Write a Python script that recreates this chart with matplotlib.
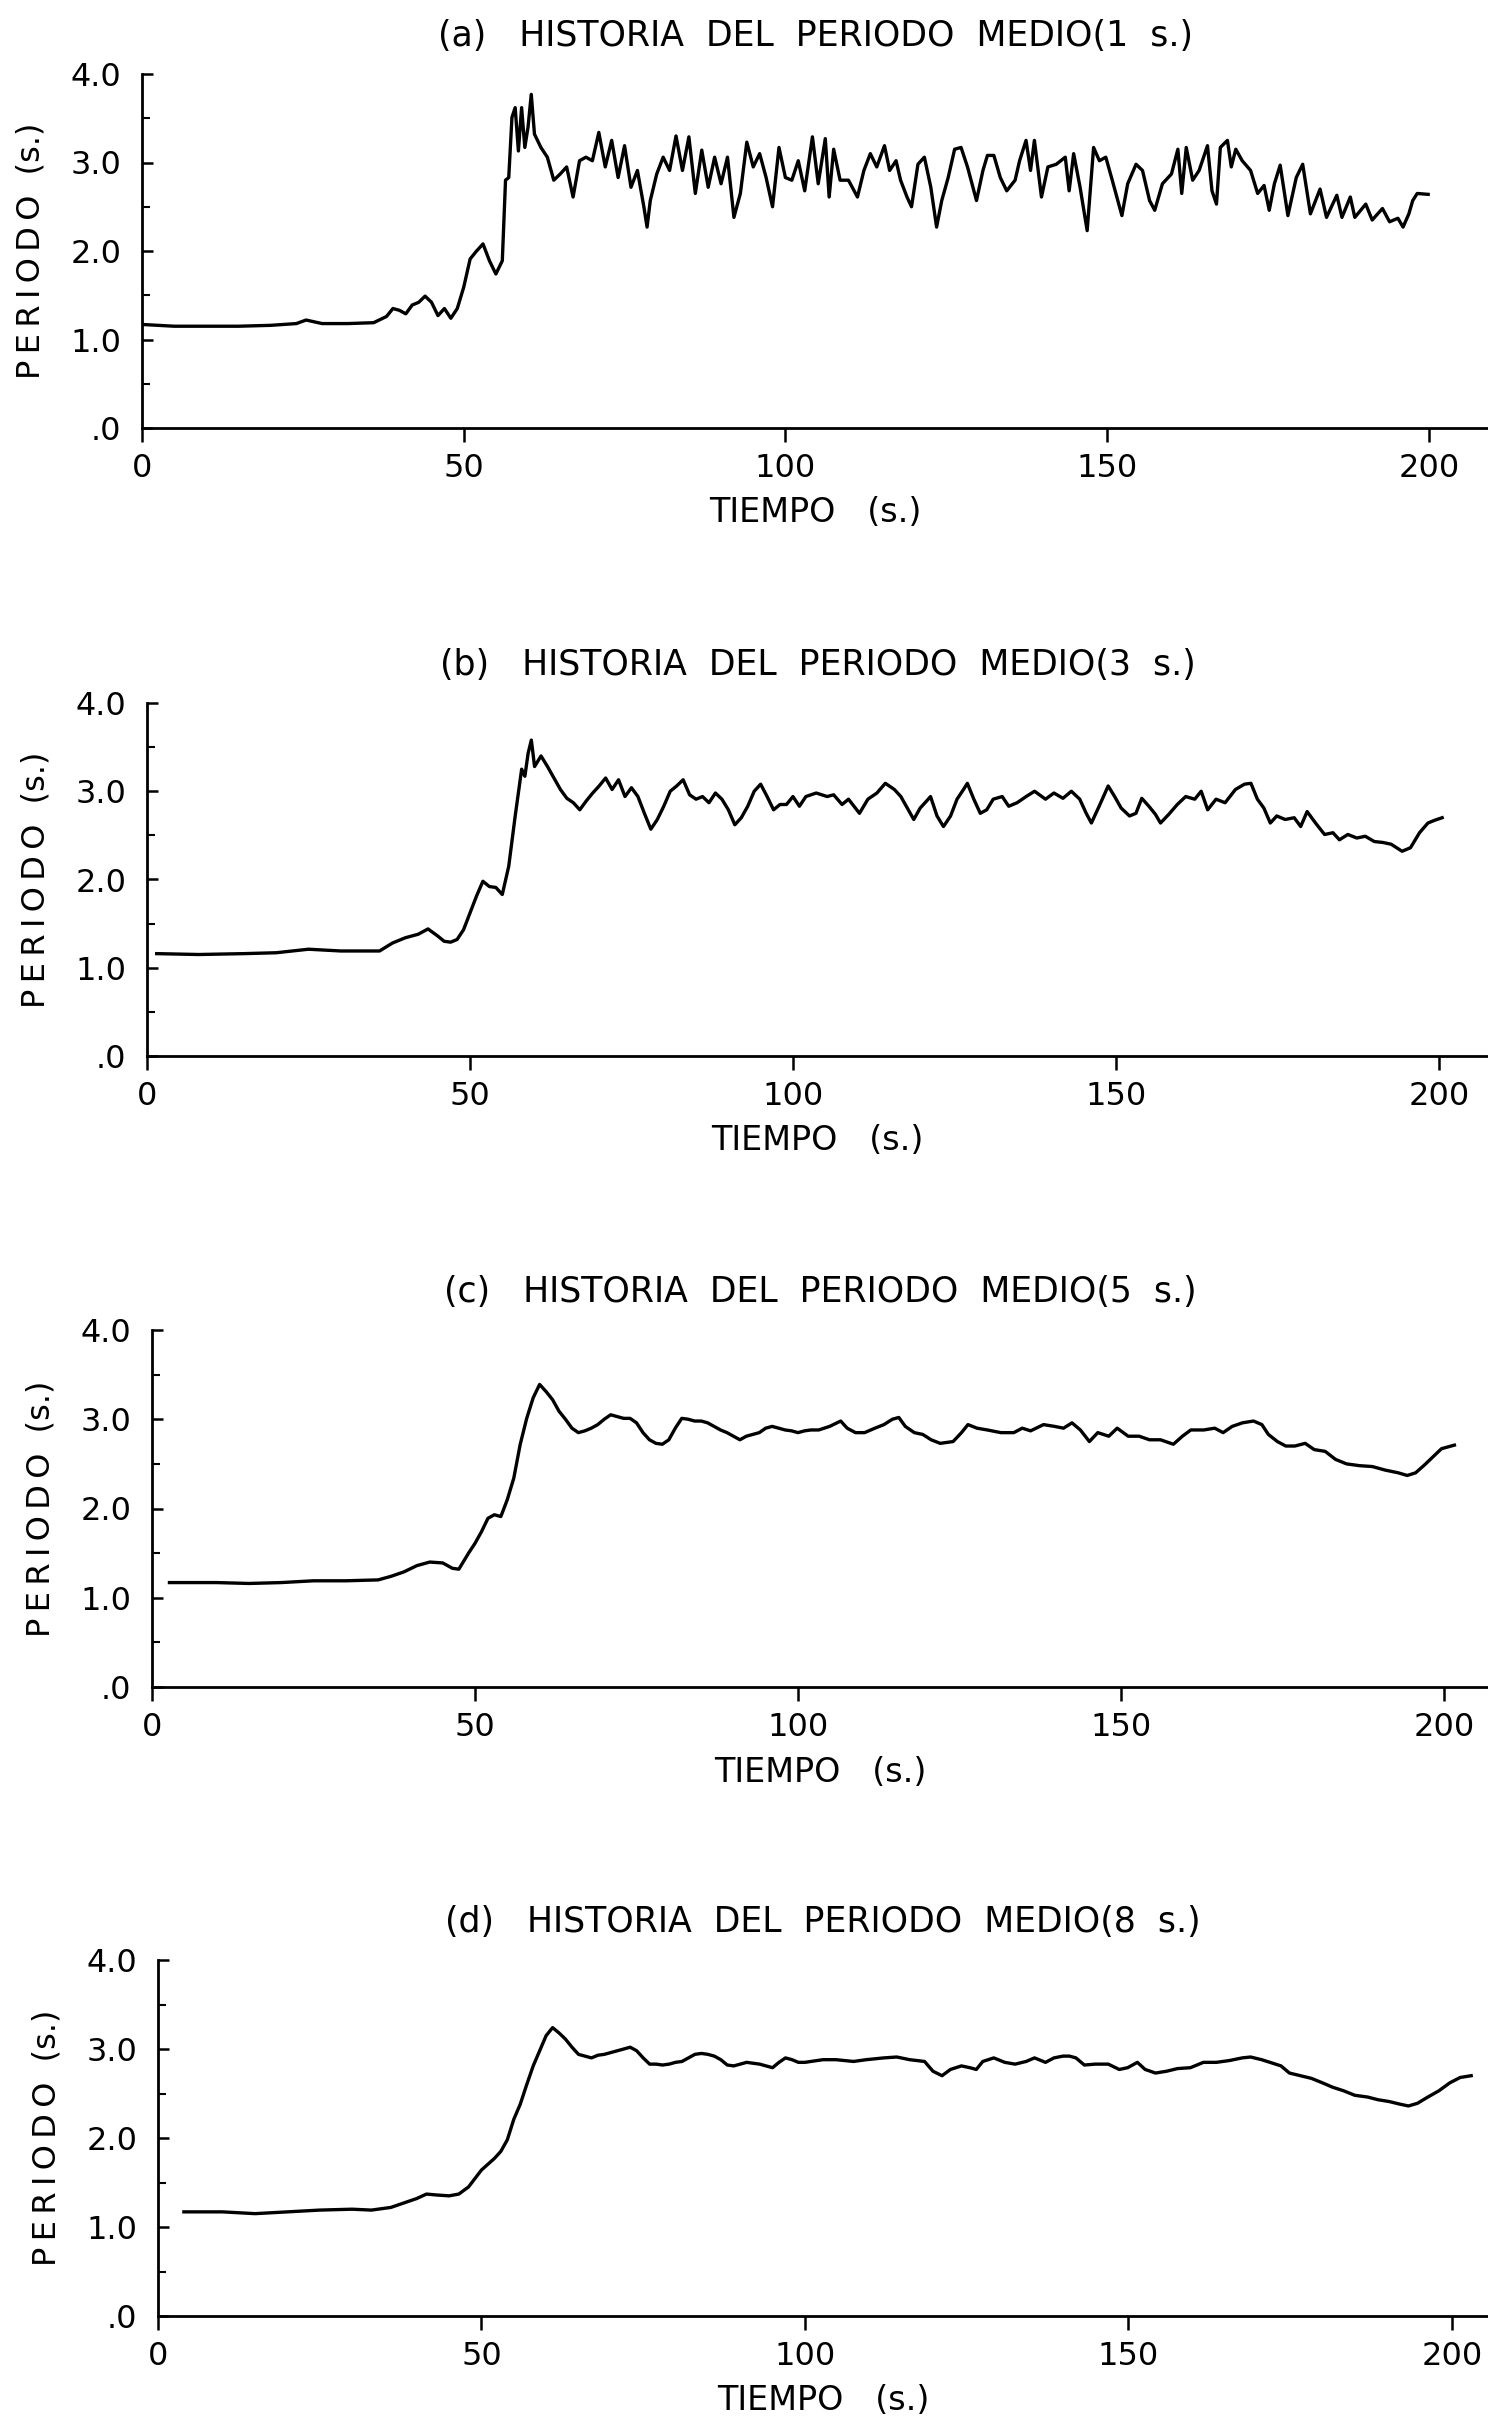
import numpy as np
import matplotlib
matplotlib.use('Agg')
import matplotlib.pyplot as plt
from matplotlib.ticker import MultipleLocator

plt.rcParams['font.family'] = ['DejaVu Sans']

# valores (tiempo en s, periodo en s)
t_a = [0, 5, 10, 15, 20, 24, 25.5, 28, 32, 36,
       38, 39, 40, 41, 42, 43, 44, 45, 46, 47,
       48, 49, 50, 51, 52, 53, 54, 55, 56, 56.5,
       57, 57.5, 58, 58.5, 59, 59.5, 60, 60.5, 61, 62,
       63, 64, 65, 66, 67, 68, 69, 70, 71, 72,
       73, 74, 75, 76, 77, 78, 78.5, 79, 80, 81,
       82, 83, 84, 85, 86, 87, 88, 89, 90, 91,
       92, 93, 94, 95, 96, 97, 98, 99, 100, 101,
       102, 103, 104.2, 105.1, 106.2, 106.8, 107.5, 108.5, 109.8, 111.2,
       112.2, 113.2, 114.2, 115.4, 116.2, 117.2, 117.9, 118.9, 119.6, 120.6,
       121.6, 122.6, 123.5, 124.3, 125.3, 126.3, 127.3, 128.3, 129.7, 130.7,
       131.4, 132.4, 133.4, 134.4, 135.7, 136.4, 137.4, 138.1, 138.7, 139.8,
       140.8, 142.1, 143.5, 144.1, 144.8, 145.8, 146.9, 147.9, 148.8, 149.8,
       150.8, 152.3, 153.2, 154.5, 155.5, 156.6, 157.4, 158.6, 160.0, 161.0,
       161.6, 162.3, 163.3, 164.3, 165.6, 166.3, 167.0, 167.6, 168.7, 169.3,
       170.0, 171.0, 172.3, 173.4, 174.4, 175.2, 176.0, 176.9, 178.1, 179.4,
       180.4, 181.6, 183.1, 184.1, 185.7, 186.5, 187.8, 188.5, 190.2, 191.2,
       192.8, 193.9, 195.2, 196.0, 196.9, 197.5, 198.2, 199.9]
p_a = [1.17, 1.15, 1.15, 1.15, 1.16, 1.18, 1.22, 1.18, 1.18, 1.19,
       1.26, 1.35, 1.33, 1.29, 1.39, 1.42, 1.49, 1.42, 1.27, 1.35,
       1.24, 1.35, 1.59, 1.91, 2.00, 2.08, 1.89, 1.74, 1.89, 2.80,
       2.83, 3.51, 3.62, 3.13, 3.62, 3.17, 3.40, 3.77, 3.32, 3.17,
       3.06, 2.80, 2.87, 2.95, 2.61, 3.02, 3.06, 3.02, 3.34, 2.95,
       3.25, 2.83, 3.19, 2.72, 2.91, 2.50, 2.27, 2.57, 2.87, 3.06,
       2.91, 3.30, 2.91, 3.29, 2.65, 3.14, 2.72, 3.06, 2.76, 3.06,
       2.38, 2.65, 3.23, 2.95, 3.10, 2.83, 2.50, 3.17, 2.83, 2.80,
       3.02, 2.68, 3.29, 2.76, 3.27, 2.61, 3.15, 2.80, 2.80, 2.61,
       2.91, 3.10, 2.95, 3.19, 2.91, 3.02, 2.80, 2.61, 2.50, 2.98,
       3.06, 2.72, 2.27, 2.57, 2.83, 3.15, 3.17, 2.95, 2.57, 2.91,
       3.08, 3.08, 2.83, 2.68, 2.80, 3.02, 3.25, 2.91, 3.25, 2.61,
       2.95, 2.98, 3.06, 2.68, 3.10, 2.72, 2.23, 3.17, 3.02, 3.06,
       2.80, 2.40, 2.76, 2.98, 2.91, 2.57, 2.46, 2.76, 2.87, 3.15,
       2.65, 3.17, 2.80, 2.91, 3.19, 2.68, 2.53, 3.17, 3.25, 2.95,
       3.15, 3.02, 2.91, 2.65, 2.74, 2.46, 2.76, 2.97, 2.40, 2.83,
       2.98, 2.42, 2.70, 2.38, 2.63, 2.38, 2.61, 2.38, 2.53, 2.35,
       2.48, 2.33, 2.37, 2.27, 2.42, 2.57, 2.65, 2.64]

t_b = [1.5, 8, 15, 20, 25, 30, 36, 38, 40, 42,
       43.5, 45, 46, 47, 48, 49, 50, 51, 52, 53,
       54, 55, 56, 57, 58, 58.5, 59, 59.5, 60, 61,
       62, 63, 64, 65, 66, 67, 68, 69, 70, 71,
       72, 73, 74, 75, 76, 77, 78, 79, 80, 81,
       82, 83, 84, 85, 86, 87, 88, 89, 90, 91,
       92, 93, 94, 95, 96, 97, 98, 99, 100, 101,
       102, 103.6, 105.3, 106.3, 107.6, 108.6, 110.3, 111.6, 113.0, 114.3,
       115.7, 116.7, 117.7, 118.7, 119.7, 120.7, 121.3, 122.3, 123.3, 124.4,
       125.4, 126.4, 127.0, 128.0, 129.0, 130.0, 131.0, 132.4, 133.4, 134.7,
       136.1, 137.4, 139.1, 140.4, 141.8, 143.1, 144.4, 145.4, 146.2, 147.4,
       148.8, 149.8, 150.8, 152.1, 153.1, 154.0, 155.1, 156.1, 156.9, 158.2,
       159.5, 160.8, 162.2, 163.2, 164.2, 165.5, 166.9, 168.5, 169.9, 170.9,
       171.9, 172.9, 173.9, 174.9, 176.2, 177.6, 178.6, 179.6, 180.9, 182.3,
       183.6, 184.6, 185.9, 187.3, 188.6, 190.0, 191.3, 192.6, 194.3, 195.6,
       197.0, 198.3, 199.3, 200.5]
p_b = [1.16, 1.15, 1.16, 1.17, 1.21, 1.19, 1.19, 1.28, 1.34, 1.38,
       1.44, 1.36, 1.30, 1.29, 1.32, 1.43, 1.62, 1.81, 1.98, 1.92,
       1.91, 1.83, 2.15, 2.72, 3.25, 3.17, 3.43, 3.58, 3.28, 3.40,
       3.28, 3.15, 3.02, 2.92, 2.87, 2.79, 2.89, 2.98, 3.06, 3.15,
       3.02, 3.13, 2.94, 3.04, 2.94, 2.75, 2.57, 2.68, 2.83, 3.00,
       3.06, 3.13, 2.96, 2.91, 2.94, 2.87, 2.98, 2.91, 2.79, 2.62,
       2.70, 2.83, 3.00, 3.08, 2.94, 2.79, 2.85, 2.85, 2.94, 2.83,
       2.94, 2.98, 2.94, 2.96, 2.85, 2.91, 2.75, 2.91, 2.98, 3.09,
       3.02, 2.94, 2.81, 2.68, 2.81, 2.89, 2.94, 2.72, 2.60, 2.72,
       2.91, 3.02, 3.09, 2.91, 2.75, 2.79, 2.91, 2.94, 2.83, 2.87,
       2.94, 3.00, 2.91, 2.98, 2.92, 3.00, 2.91, 2.75, 2.64, 2.83,
       3.06, 2.94, 2.81, 2.72, 2.75, 2.92, 2.83, 2.74, 2.64, 2.74,
       2.85, 2.94, 2.91, 3.00, 2.79, 2.91, 2.87, 3.02, 3.08, 3.09,
       2.91, 2.81, 2.64, 2.72, 2.68, 2.70, 2.60, 2.77, 2.64, 2.51,
       2.53, 2.45, 2.51, 2.47, 2.49, 2.43, 2.42, 2.40, 2.32, 2.36,
       2.53, 2.64, 2.67, 2.70]

t_c = [2.7, 10, 15, 20, 25, 30, 35, 37, 39, 41,
       43, 45, 46.5, 47.5, 49, 50, 51, 52, 53, 54,
       55, 56, 57, 58, 59, 60, 61, 62, 63, 64,
       65, 66, 67, 68, 69, 70, 71, 72, 73, 74,
       75, 76, 77, 78, 79, 80, 81, 82, 83, 84,
       85, 86, 87, 88, 89, 90, 91, 92, 93, 94,
       95, 96, 97, 98, 99, 100, 101, 102, 103.2, 104.9,
       106.6, 107.6, 108.9, 110.3, 111.9, 113.3, 114.6, 115.6, 116.6, 118.0,
       119.3, 120.6, 122.0, 124.0, 125.3, 126.3, 127.7, 129.3, 131.4, 133.4,
       134.7, 136.0, 138.0, 139.7, 141.1, 142.4, 143.7, 145.1, 146.4, 148.1,
       149.4, 151.1, 152.8, 154.4, 156.1, 158.1, 159.5, 160.8, 162.8, 164.5,
       165.8, 167.2, 168.8, 170.5, 171.8, 172.8, 174.2, 175.5, 176.9, 178.5,
       179.9, 181.6, 183.2, 184.9, 186.9, 188.9, 190.9, 192.9, 194.3, 195.6,
       197.0, 198.3, 199.6, 201.6]
p_c = [1.17, 1.17, 1.16, 1.17, 1.19, 1.19, 1.20, 1.24, 1.29, 1.36,
       1.40, 1.39, 1.33, 1.32, 1.50, 1.61, 1.74, 1.89, 1.93, 1.91,
       2.10, 2.34, 2.72, 3.01, 3.24, 3.39, 3.31, 3.22, 3.09, 3.00,
       2.90, 2.85, 2.87, 2.90, 2.94, 3.00, 3.05, 3.03, 3.01, 3.01,
       2.96, 2.85, 2.77, 2.73, 2.72, 2.77, 2.90, 3.01, 3.00, 2.98,
       2.98, 2.96, 2.92, 2.88, 2.85, 2.81, 2.77, 2.81, 2.83, 2.85,
       2.90, 2.92, 2.90, 2.88, 2.87, 2.85, 2.87, 2.88, 2.88, 2.92,
       2.98, 2.90, 2.85, 2.85, 2.90, 2.94, 3.00, 3.02, 2.92, 2.85,
       2.83, 2.77, 2.73, 2.75, 2.85, 2.94, 2.90, 2.88, 2.85, 2.85,
       2.90, 2.87, 2.94, 2.92, 2.90, 2.96, 2.88, 2.75, 2.85, 2.81,
       2.90, 2.81, 2.81, 2.77, 2.77, 2.72, 2.81, 2.88, 2.88, 2.90,
       2.85, 2.92, 2.96, 2.98, 2.94, 2.83, 2.75, 2.70, 2.70, 2.73,
       2.66, 2.64, 2.55, 2.50, 2.48, 2.47, 2.43, 2.40, 2.37, 2.40,
       2.49, 2.58, 2.67, 2.71]

t_d = [4, 10, 15, 20, 25, 30, 33, 36, 38, 40,
       41.5, 43, 45, 46.5, 48, 50, 52, 53, 54, 55,
       56, 57, 58, 59, 60, 61, 62, 63, 64, 65,
       66, 67, 68, 69, 70, 71, 72, 73, 74, 75,
       76, 77, 78, 79, 80, 81, 82, 83, 84, 85,
       86, 87, 88, 89, 90, 91, 92, 93, 94, 95,
       96, 97, 98, 99, 100, 102.8, 104.8, 107.5, 109.5, 112.2,
       114.2, 116.2, 118.5, 119.8, 121.2, 122.5, 124.2, 125.5, 126.5, 127.5,
       129.2, 130.9, 132.5, 134.2, 135.5, 137.2, 138.5, 139.9, 140.9, 141.9,
       143.2, 144.9, 146.9, 148.6, 149.9, 151.4, 152.6, 154.2, 155.9, 157.6,
       159.6, 161.6, 163.6, 165.6, 167.6, 168.9, 170.6, 171.9, 173.6, 174.9,
       176.6, 178.3, 180.0, 181.6, 183.3, 185.0, 187.0, 188.6, 190.3, 192.0,
       193.3, 194.7, 196.3, 198.0, 199.7, 201.3, 203.0]
p_d = [1.17, 1.17, 1.15, 1.17, 1.19, 1.20, 1.19, 1.22, 1.27, 1.32,
       1.37, 1.36, 1.35, 1.37, 1.45, 1.64, 1.77, 1.85, 1.98, 2.21,
       2.38, 2.60, 2.81, 2.98, 3.15, 3.24, 3.18, 3.11, 3.02, 2.94,
       2.92, 2.90, 2.93, 2.94, 2.96, 2.98, 3.00, 3.02, 2.98, 2.90,
       2.83, 2.83, 2.82, 2.83, 2.85, 2.86, 2.90, 2.94, 2.95, 2.94,
       2.92, 2.88, 2.82, 2.81, 2.83, 2.85, 2.84, 2.83, 2.81, 2.79,
       2.85, 2.90, 2.88, 2.85, 2.85, 2.88, 2.88, 2.86, 2.88, 2.90,
       2.91, 2.88, 2.86, 2.75, 2.70, 2.77, 2.81, 2.79, 2.77, 2.86,
       2.90, 2.85, 2.83, 2.86, 2.90, 2.85, 2.90, 2.92, 2.92, 2.90,
       2.82, 2.83, 2.83, 2.77, 2.79, 2.85, 2.77, 2.73, 2.75, 2.78,
       2.79, 2.85, 2.85, 2.87, 2.90, 2.91, 2.88, 2.85, 2.81, 2.73,
       2.70, 2.67, 2.62, 2.57, 2.53, 2.48, 2.46, 2.43, 2.41, 2.38,
       2.36, 2.39, 2.46, 2.53, 2.62, 2.68, 2.70]

titulos = ['(a)   HISTORIA  DEL  PERIODO  MEDIO(1  s.)',
           '(b)   HISTORIA  DEL  PERIODO  MEDIO(3  s.)',
           '(c)   HISTORIA  DEL  PERIODO  MEDIO(5  s.)',
           '(d)   HISTORIA  DEL  PERIODO  MEDIO(8  s.)']
xticks = [0, 50, 100, 150, 200]
yticks = [0, 1, 2, 3, 4]
ytick_labels = ['.0', '1.0', '2.0', '3.0', '4.0']

W, H = 1488, 2424
fig = plt.figure(figsize=(W / 100, H / 100), dpi=100)

# posicion de cada panel en pixeles: borde izq, y=0, y=4, x maximo
cajas = [(142, 428, 74, 209.2),
         (147, 1056, 703, 207.6),
         (152, 1687, 1330, 206.8),
         (158, 2316, 1960, 205.6)]
series = [(t_a, p_a), (t_b, p_b), (t_c, p_c), (t_d, p_d)]

for (t, p), titulo, (izq, cero, tope, xmax) in zip(series, titulos, cajas):
    aw = W - izq
    ah = cero - tope
    ax = fig.add_axes([izq / W, 1 - cero / H, aw / W, ah / H])
    ax.plot(t, p, color='black', lw=2.4)
    ax.set_xlim(0, xmax)
    ax.set_ylim(0, 4)
    for lado in ['top', 'right']:
        ax.spines[lado].set_visible(False)
    for lado in ['left', 'bottom']:
        ax.spines[lado].set_linewidth(2.0)
    ax.set_xticks(xticks)
    ax.set_xticklabels([str(v) for v in xticks])
    ax.set_yticks(yticks)
    ax.set_yticklabels(ytick_labels)
    ax.yaxis.set_minor_locator(MultipleLocator(0.5))
    ax.tick_params(axis='x', direction='out', length=10, width=1.8, pad=8, labelsize=23)
    ax.tick_params(axis='y', which='major', direction='in', length=8, width=1.8, pad=15, labelsize=23)
    ax.tick_params(axis='y', which='minor', direction='in', length=6, width=1.5)
    ax.set_xlabel('TIEMPO   (s.)', fontsize=24, va='center')
    ax.xaxis.set_label_coords(0.5, -85 / ah)
    ax.set_ylabel('P\u2009E\u2009R\u2009I\u2009O\u2009D\u2009O  (s.)', fontsize=23, va='center')
    ax.yaxis.set_label_coords(-111 / aw, 0.5)
    ax.text(0.5, 1 + 38 / ah, titulo, transform=ax.transAxes,
            ha='center', va='center', fontsize=25)

fig.savefig('out.png', dpi=100)
